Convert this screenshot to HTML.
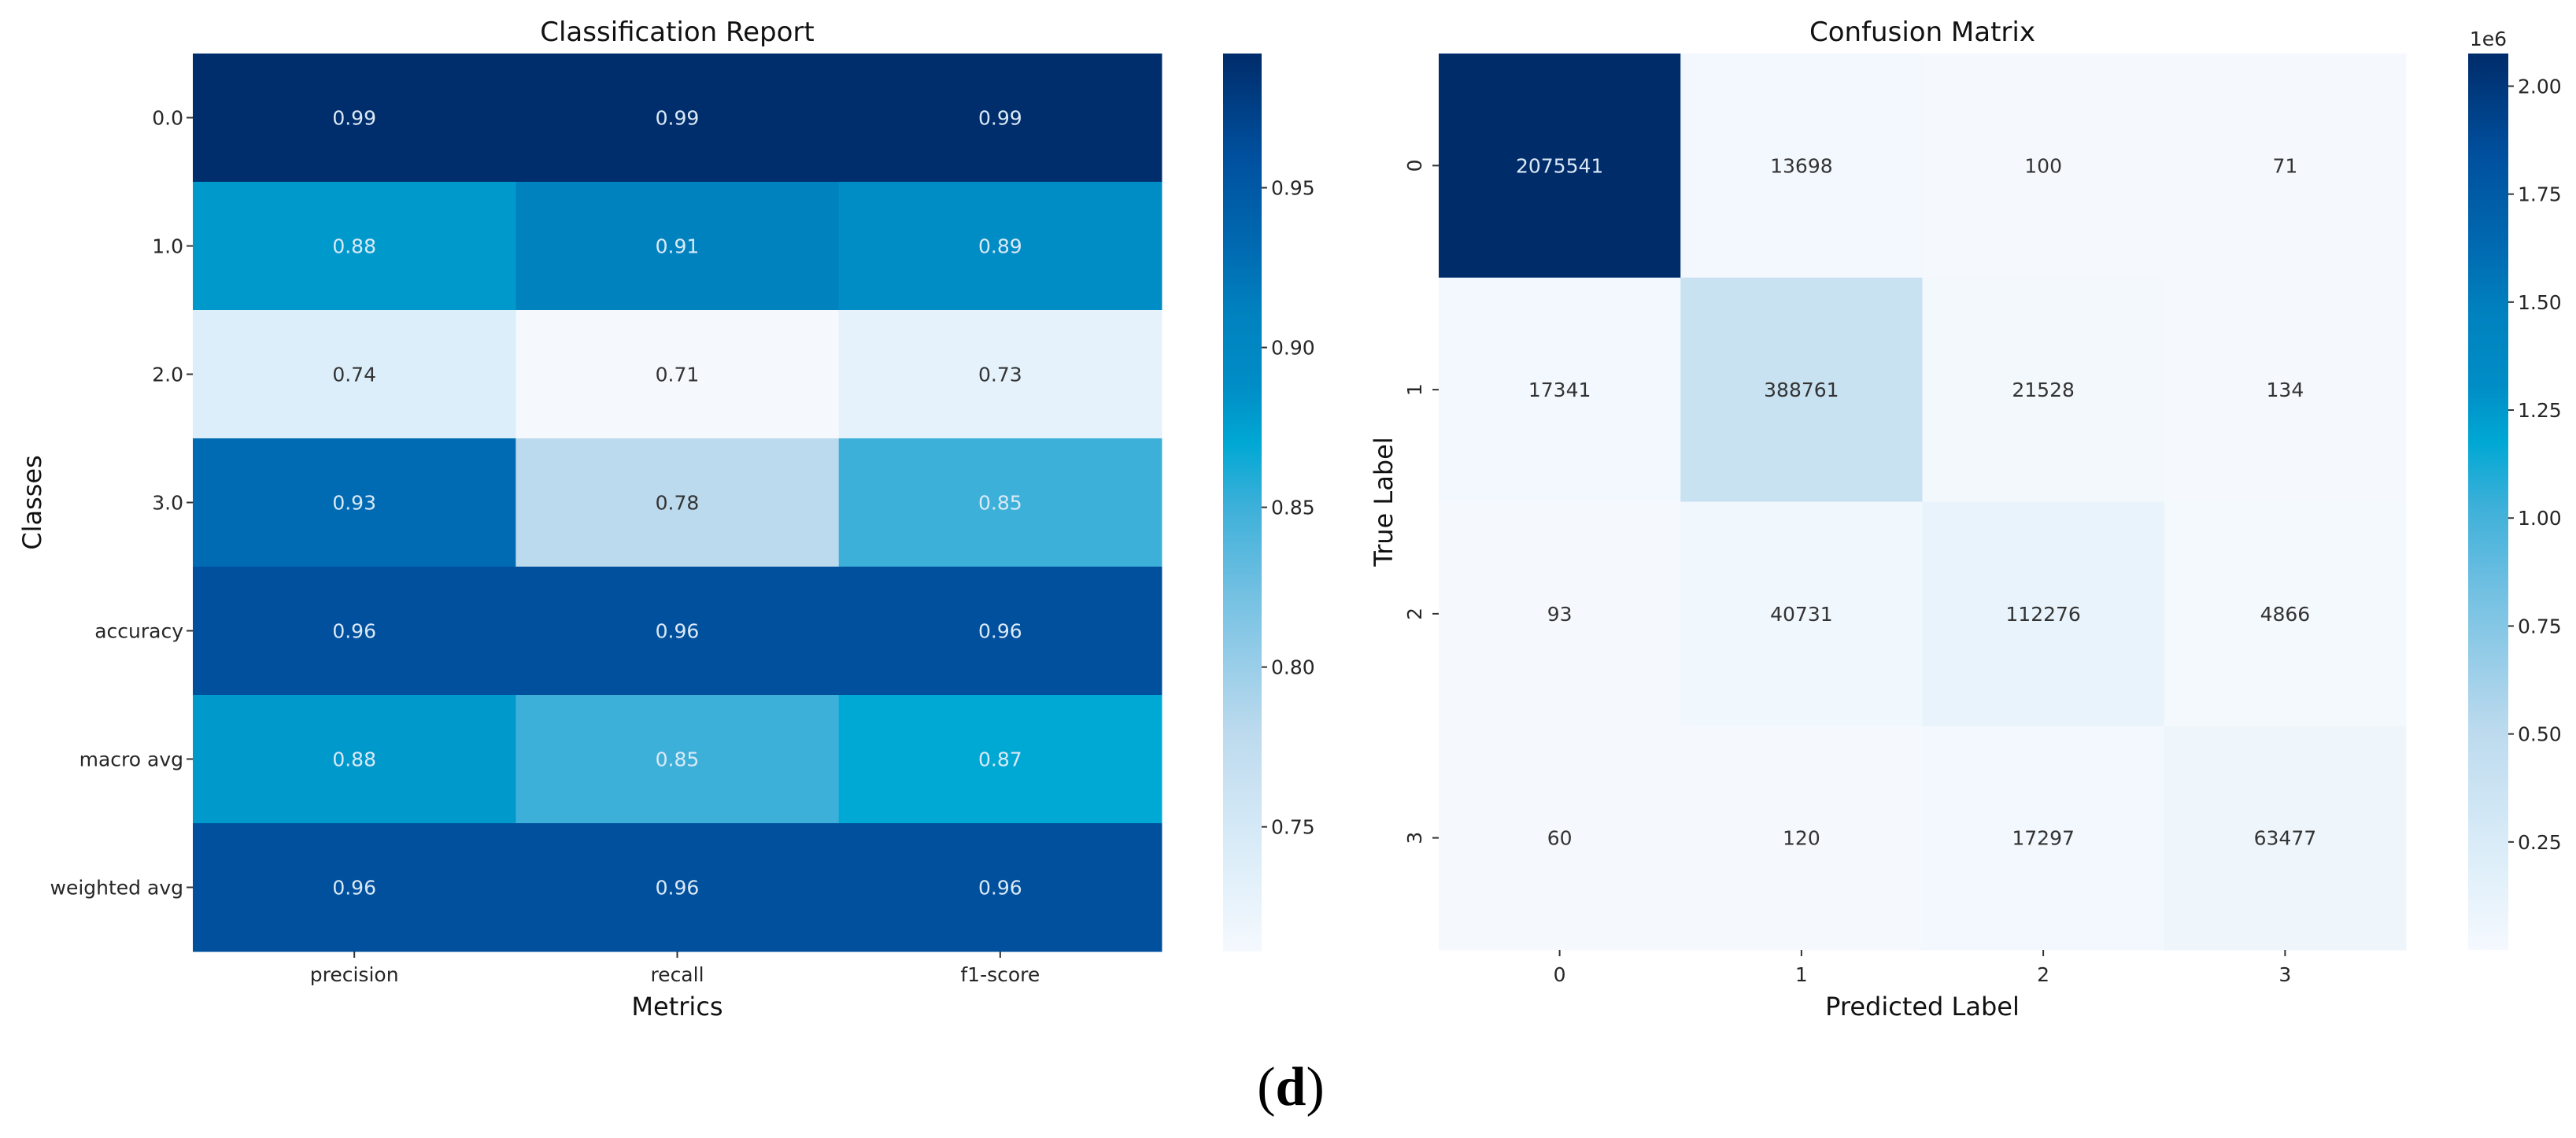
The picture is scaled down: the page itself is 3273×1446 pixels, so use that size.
<!DOCTYPE html>
<html><head><meta charset="utf-8"><style>
html,body{margin:0;padding:0;background:#fff;}
svg{display:block;font-family:"DejaVu Sans","Liberation Sans",sans-serif;}
</style></head><body>
<svg id="fig" width="3273" height="1446" viewBox="0 0 3273 1446" xmlns="http://www.w3.org/2000/svg">
<defs>
<linearGradient id="cbgrad" x1="0" y1="1" x2="0" y2="0">
<stop offset="0" stop-color="#f5f9fe"/><stop offset="0.1" stop-color="#ddeef9"/><stop offset="0.245" stop-color="#bcdaee"/><stop offset="0.4" stop-color="#72c0e2"/><stop offset="0.495" stop-color="#3db0d9"/><stop offset="0.566" stop-color="#00a8d4"/><stop offset="0.63" stop-color="#008dc6"/><stop offset="0.71" stop-color="#0082bf"/><stop offset="0.78" stop-color="#006bb2"/><stop offset="0.886" stop-color="#00509e"/><stop offset="1" stop-color="#002c6a"/>
</linearGradient>
</defs>
<g id="left"></g>
<g id="right"></g>
<text x="1640" y="1404" text-anchor="middle" font-family="Liberation Serif, serif" font-size="70"><tspan>(</tspan><tspan font-weight="bold">d</tspan><tspan>)</tspan></text>
</svg>
<script>
// Classification report data
const crRows = ["0.0","1.0","2.0","3.0","accuracy","macro avg","weighted avg"];
const crCols = ["precision","recall","f1-score"];
const crPrecision = [0.99,0.88,0.74,0.93,0.96,0.88,0.96];
const crRecall = [0.99,0.91,0.71,0.78,0.96,0.85,0.96];
const crF1 = [0.99,0.89,0.73,0.85,0.96,0.87,0.96];
const crTicks = [0.75,0.80,0.85,0.90,0.95];
const crTickLabels = ["0.75","0.80","0.85","0.90","0.95"];
// Confusion matrix data
const cmLabels = ["0","1","2","3"];
const cmRow0 = [2075541,13698,100,71];
const cmRow1 = [17341,388761,21528,134];
const cmRow2 = [93,40731,112276,4866];
const cmRow3 = [60,120,17297,63477];
const cmTicks = [0.25,0.5,0.75,1.0,1.25,1.5,1.75,2.0];
const cmTickLabels = ["0.25","0.50","0.75","1.00","1.25","1.50","1.75","2.00"];

const NS="http://www.w3.org/2000/svg";
function mk(tag,attrs,parent,txt){const e=document.createElementNS(NS,tag);for(const k in attrs)e.setAttribute(k,attrs[k]);if(txt!==undefined)e.textContent=txt;parent.appendChild(e);return e;}
const stops=[[0,[245,249,254]],[0.1,[221,238,249]],[0.245,[188,218,238]],[0.4,[114,192,226]],[0.495,[61,176,217]],[0.566,[0,168,212]],[0.63,[0,141,198]],[0.71,[0,130,191]],[0.78,[0,107,178]],[0.886,[0,80,158]],[1,[0,44,106]]];
function cmap(t){t=Math.max(0,Math.min(1,t));for(let i=1;i<stops.length;i++){if(t<=stops[i][0]){const a=stops[i-1],b=stops[i];const f=(t-a[0])/(b[0]-a[0]);const c=a[1].map((v,j)=>Math.round(v+(b[1][j]-v)*f));return `rgb(${c[0]},${c[1]},${c[2]})`;}}return "rgb(0,44,106)";}

// ---------- Left chart ----------
(function(){
const g=document.getElementById('left');
const X0=245,X1=1476,Y0=68,Y1=1209;
const vmin=0.711,vmax=0.992;
const cw=(X1-X0)/crCols.length, rh=(Y1-Y0)/crRows.length;
const xs=i=>X0+i*cw, ys=j=>Y0+j*rh;
const series=[crPrecision,crRecall,crF1];
for(let c=0;c<crCols.length;c++){for(let r=0;r<crRows.length;r++){
 const v=series[c][r];const t=(v-vmin)/(vmax-vmin);
 const rect=mk('rect',{x:xs(c),y:ys(r),width:cw+0.5,height:rh+0.5,fill:cmap(t)},g);
 
 
 const tx=mk('text',{x:xs(c)+cw/2,y:ys(r)+rh/2+9,'text-anchor':'middle','font-size':25,fill:t>0.45?'#dbe9f6':'#333'},g,v.toFixed(2));
 
 
}}
crRows.forEach((l,r)=>{const y=ys(r)+rh/2;mk('line',{x1:X0-8,x2:X0,y1:y,y2:y,stroke:'#333','stroke-width':2},g);
 const t=mk('text',{x:X0-12,y:y+9,'text-anchor':'end','font-size':25,fill:'#262626'},g,l);
 
 });
crCols.forEach((l,c)=>{const x=xs(c)+cw/2;mk('line',{x1:x,x2:x,y1:Y1,y2:Y1+8,stroke:'#333','stroke-width':2},g);
 const t=mk('text',{x:x,y:Y1+38,'text-anchor':'middle','font-size':25,fill:'#262626'},g,l);
 
 });
let t=mk('text',{x:(X0+X1)/2,y:52,'text-anchor':'middle','font-size':34,fill:'#111'},g,'Classification Report');


t=mk('text',{x:(X0+X1)/2,y:1290,'text-anchor':'middle','font-size':32,fill:'#111'},g,'Metrics');


t=mk('text',{x:0,y:0,'text-anchor':'middle','font-size':32,fill:'#111',transform:`translate(52,${(Y0+Y1)/2}) rotate(-90)`},g,'Classes');


const CX=1554,CW=49;
const cb=mk('rect',{x:CX,y:Y0,width:CW,height:Y1-Y0,fill:'url(#cbgrad)'},g);


const cy=v=>Y1-(v-vmin)/(vmax-vmin)*(Y1-Y0);
crTicks.forEach((v,i)=>{const y=cy(v);mk('line',{x1:CX+CW,x2:CX+CW+7,y1:y,y2:y,stroke:'#333','stroke-width':2},g);
 const tt=mk('text',{x:CX+CW+12,y:y+9,'font-size':25,fill:'#262626'},g,crTickLabels[i]);
 
 });
})();

// ---------- Right chart ----------
(function(){
const g=document.getElementById('right');
const X0=1828,X1=3057,Y0=68,Y1=1207;
const vmin=60,vmax=2075541;
const rows=[cmRow0,cmRow1,cmRow2,cmRow3];
const cw=(X1-X0)/4, rh=(Y1-Y0)/4;
const xs=i=>X0+i*cw, ys=j=>Y0+j*rh;
rows.forEach((row,r)=>row.forEach((v,c)=>{
 const t=(v-vmin)/(vmax-vmin);
 const rect=mk('rect',{x:xs(c),y:ys(r),width:cw+0.5,height:rh+0.5,fill:cmap(t)},g);
 
 
 const tx=mk('text',{x:xs(c)+cw/2,y:ys(r)+rh/2+9,'text-anchor':'middle','font-size':25,fill:t>0.45?'#dbe9f6':'#333'},g,String(v));
 
 
}));
cmLabels.forEach((l,i)=>{
 const y=ys(i)+rh/2;mk('line',{x1:X0-8,x2:X0,y1:y,y2:y,stroke:'#333','stroke-width':2},g);
 const t=mk('text',{x:0,y:0,'text-anchor':'middle','font-size':25,fill:'#262626',transform:`translate(${X0-22},${y}) rotate(-90)`},g,l);
 
 
 const x=xs(i)+cw/2;mk('line',{x1:x,x2:x,y1:Y1,y2:Y1+8,stroke:'#333','stroke-width':2},g);
 const t2=mk('text',{x:x,y:Y1+40,'text-anchor':'middle','font-size':25,fill:'#262626'},g,l);
 
 
});
let t=mk('text',{x:(X0+X1)/2,y:52,'text-anchor':'middle','font-size':34,fill:'#111'},g,'Confusion Matrix');


t=mk('text',{x:(X0+X1)/2,y:1290,'text-anchor':'middle','font-size':32,fill:'#111'},g,'Predicted Label');


t=mk('text',{x:0,y:0,'text-anchor':'middle','font-size':32,fill:'#111',transform:`translate(1769,${(Y0+Y1)/2}) rotate(-90)`},g,'True Label');


const CX=3136,CW=51;
const cb=mk('rect',{x:CX,y:Y0,width:CW,height:Y1-Y0,fill:'url(#cbgrad)'},g);


const cy=v=>Y1-(v*1e6-vmin)/(vmax-vmin)*(Y1-Y0);
cmTicks.forEach((v,i)=>{const y=cy(v);mk('line',{x1:CX+CW,x2:CX+CW+7,y1:y,y2:y,stroke:'#333','stroke-width':2},g);
 const tt=mk('text',{x:CX+CW+12,y:y+9,'font-size':25,fill:'#262626'},g,cmTickLabels[i]);
 
 });
t=mk('text',{x:CX+CW/2,y:58,'text-anchor':'middle','font-size':25,fill:'#262626'},g,'1e6');


})();
</script>
</body></html>
